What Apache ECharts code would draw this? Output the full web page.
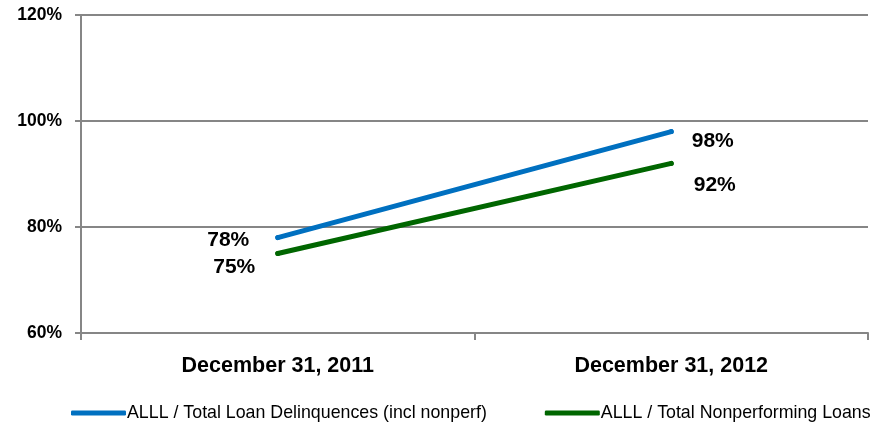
<!DOCTYPE html>
<html>
<head>
<meta charset="utf-8">
<script src="https://cdn.jsdelivr.net/npm/echarts@6/dist/echarts.min.js"></script>
<style>
  html, body { margin: 0; padding: 0; background: #fff; }
  #chart { width: 882px; height: 433px; }
</style>
</head>
<body>
<div id="chart"></div>
<script>
// Period labels along the x axis
const categories = ['December 31, 2011', 'December 31, 2012'];
// Allowance ratios, in percent
const delinquencyRatio = [78, 98];
const nonperformingRatio = [75, 92];
const seriesNames = ['ALLL / Total Loan Delinquences (incl nonperf)', 'ALLL / Total Nonperforming Loans'];
const yTicks = { min: 60, max: 120, step: 20 };

const FONT = "'Liberation Sans Narrow', 'Liberation Sans', Arial, sans-serif";
const BLUE = '#0070C0';
const GREEN = '#006600';

const labelStyle = { fontFamily: FONT, fontWeight: 'bold', fontSize: 21, color: '#000' };

function points(values, labelSpecs) {
  return values.map((v, i) => ({
    value: v,
    label: Object.assign({ show: true, formatter: '{c}%' }, labelStyle, labelSpecs[i])
  }));
}

const chart = echarts.init(document.getElementById('chart'), null, { renderer: 'canvas' });
chart.setOption({
  animation: false,
  grid: { left: 81, right: 14, top: 15, bottom: 100, containLabel: false },
  legend: {
    bottom: 6,
    left: 66,
    itemGap: 58,
    itemWidth: 55,
    itemHeight: 5,
    icon: 'roundRect',
    textStyle: { fontFamily: FONT, fontSize: 17.8, color: '#000', padding: [0, 0, 0, -4] },
    data: seriesNames
  },
  xAxis: {
    type: 'category',
    data: categories,
    boundaryGap: true,
    axisLine: { lineStyle: { color: '#868686', width: 2 } },
    axisTick: { show: true, length: 7, lineStyle: { color: '#868686', width: 2 } },
    axisLabel: { fontFamily: FONT, fontWeight: 'bold', fontSize: 21.5, color: '#000', margin: 22 },
    splitLine: { show: false }
  },
  yAxis: {
    type: 'value',
    min: yTicks.min,
    max: yTicks.max,
    interval: yTicks.step,
    axisLine: { show: true, lineStyle: { color: '#868686', width: 2 } },
    axisTick: { show: true, length: 6, lineStyle: { color: '#868686', width: 2 } },
    axisLabel: { formatter: '{value}%', fontFamily: FONT, fontWeight: 'bold', fontSize: 17.5, color: '#000', margin: 19 },
    splitLine: { show: true, lineStyle: { color: '#868686', width: 2 } }
  },
  series: [
    {
      name: seriesNames[0],
      type: 'line',
      data: points(delinquencyRatio, [
        { position: 'left', distance: 26, offset: [0, 3] },
        { position: 'right', distance: 18, offset: [0, 10] }
      ]),
      symbol: 'circle',
      symbolSize: 5,
      showSymbol: true,
      lineStyle: { color: BLUE, width: 5, cap: 'round' },
      itemStyle: { color: BLUE }
    },
    {
      name: seriesNames[1],
      type: 'line',
      data: points(nonperformingRatio, [
        { position: 'left', distance: 20, offset: [0, 14] },
        { position: 'right', distance: 20, offset: [0, 22] }
      ]),
      symbol: 'circle',
      symbolSize: 5,
      showSymbol: true,
      lineStyle: { color: GREEN, width: 5, cap: 'round' },
      itemStyle: { color: GREEN }
    }
  ]
});
</script>
</body>
</html>
